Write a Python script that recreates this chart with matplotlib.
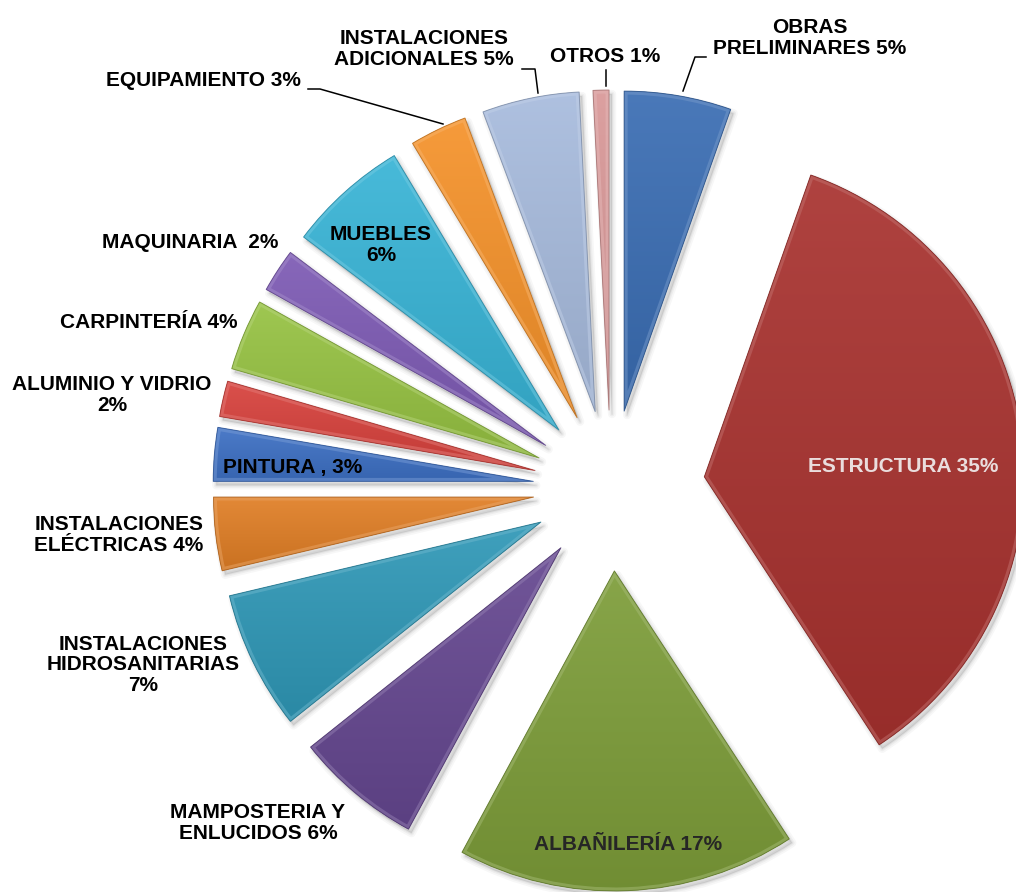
import numpy as np
import matplotlib
matplotlib.use("Agg")
import matplotlib.pyplot as plt
import matplotlib.patches as mpatches
from matplotlib.colors import to_rgb

# ---------------- data ----------------
categories = ["OBRAS PRELIMINARES", "ESTRUCTURA", "ALBAÑILERÍA",
              "MAMPOSTERIA Y ENLUCIDOS", "INSTALACIONES HIDROSANITARIAS",
              "INSTALACIONES ELÉCTRICAS", "PINTURA", "ALUMINIO Y VIDRIO",
              "CARPINTERÍA", "MAQUINARIA", "MUEBLES", "EQUIPAMIENTO",
              "INSTALACIONES ADICIONALES", "OTROS"]
values = [5.4, 35.4, 17.1, 6.4, 7.0, 3.7, 2.7, 1.8, 3.6, 2.2, 6.1, 2.9, 4.9, 0.8]
label_texts = ["OBRAS\nPRELIMINARES 5%", "ESTRUCTURA 35%", "ALBAÑILERÍA 17%",
               "MAMPOSTERIA Y\nENLUCIDOS 6%", "INSTALACIONES\nHIDROSANITARIAS\n7%",
               "INSTALACIONES\nELÉCTRICAS 4%", "PINTURA , 3%", "ALUMINIO Y VIDRIO\n2%",
               "CARPINTERÍA 4%", "MAQUINARIA  2%", "MUEBLES\n6%", "EQUIPAMIENTO 3%",
               "INSTALACIONES\nADICIONALES 5%", "OTROS 1%"]

# ---------------- style / layout ----------------
colors = ["#3A6DB3", "#A8322F", "#7D9D39", "#654790", "#2F98B7", "#E07E25",
          "#3D70C4", "#D7413C", "#96C242", "#7D5AB4", "#38B4D6", "#F5922A",
          "#A7BBDD", "#D99898"]
explode = [78, 94, 83, 78, 78, 78, 78, 78, 78, 78, 78, 78, 78, 78]
W, H = 1016, 892
center = (611, H - 488)
radius = 320

label_pos = [(810, 38), (903, 466), (628, 845), (258, 823), (143, 665),
             (119, 535), (293, 467), (112, 395), (149, 322), (190, 243),
             (381, 245), (203, 80), (424, 49), (605, 57)]
label_colors = ["black", "#EADDDD", "#262626"] + ["black"] * 11

leaders = [([308, 320, 443], [89, 89, 124]),
           ([522, 535, 538], [69, 69, 93]),
           ([606, 606], [70, 86]),
           ([706, 695, 683], [57, 57, 91])]


def mix(c, t, amt):
    c = np.array(to_rgb(c)); t = np.array(to_rgb(t))
    return tuple(c + (t - c) * amt)


fig = plt.figure(figsize=(W / 100, H / 100), dpi=100)
ax = fig.add_axes([0, 0, 1, 1])

wedges, _ = ax.pie(values, colors=colors, startangle=90, counterclock=False,
                   radius=radius, center=center, explode=explode,
                   wedgeprops=dict(linewidth=0))

for w, col in zip(wedges, colors):
    w.set_zorder(3)
    cx, cy = w.center
    # soft shadow (down-right)
    for lw, a in [(6, 0.03), (3.5, 0.04), (1.5, 0.05)]:
        sh = mpatches.Wedge((cx + 3, cy - 4), w.r, w.theta1, w.theta2,
                            facecolor=(0, 0, 0, 0.0), edgecolor=(0, 0, 0, a),
                            linewidth=lw, joinstyle="round", zorder=1)
        ax.add_patch(sh)
    sh = mpatches.Wedge((cx + 3, cy - 4), w.r, w.theta1, w.theta2,
                        facecolor=(0, 0, 0, 0.10), linewidth=0, zorder=1)
    ax.add_patch(sh)
    # gentle gradient fill
    ext = w.get_path().get_extents()
    n = 128
    tvals = np.linspace(0, 1, n)
    top = np.array(mix(col, "white", 0.08))
    bot = np.array(mix(col, "black", 0.10))
    grad = bot[None, :] + (top - bot)[None, :] * tvals[:, None]
    img = ax.imshow(grad[:, None, :], extent=[ext.x0, ext.x1, ext.y0, ext.y1],
                    origin="lower", interpolation="bilinear", zorder=4,
                    aspect="auto")
    img.set_clip_path(w)
    # bevel highlight along the edges
    hl = mpatches.Wedge(w.center, w.r, w.theta1, w.theta2, facecolor="none",
                        edgecolor=mix(col, "white", 0.30), linewidth=5,
                        alpha=0.5, joinstyle="round", zorder=5)
    ax.add_patch(hl)
    hl.set_clip_path(w)
    # soft darker outline
    ol = mpatches.Wedge(w.center, w.r, w.theta1, w.theta2, facecolor="none",
                        edgecolor=mix(col, "black", 0.25), linewidth=0.7,
                        alpha=0.8, joinstyle="round", zorder=6)
    ax.add_patch(ol)

for txt, (x, y), c in zip(label_texts, label_pos, label_colors):
    ax.text(x, H - y, txt, ha="center", va="center", fontsize=15,
            fontweight="bold", family="Liberation Sans", color=c,
            linespacing=1.12, zorder=10)

for xs, ys in leaders:
    ax.plot(xs, [H - v for v in ys], color="black", lw=1.1, zorder=9)

ax.set_xlim(0, W)
ax.set_ylim(0, H)
ax.set_aspect("auto")
ax.axis("off")
fig.savefig("out.png", dpi=100, facecolor="white")
